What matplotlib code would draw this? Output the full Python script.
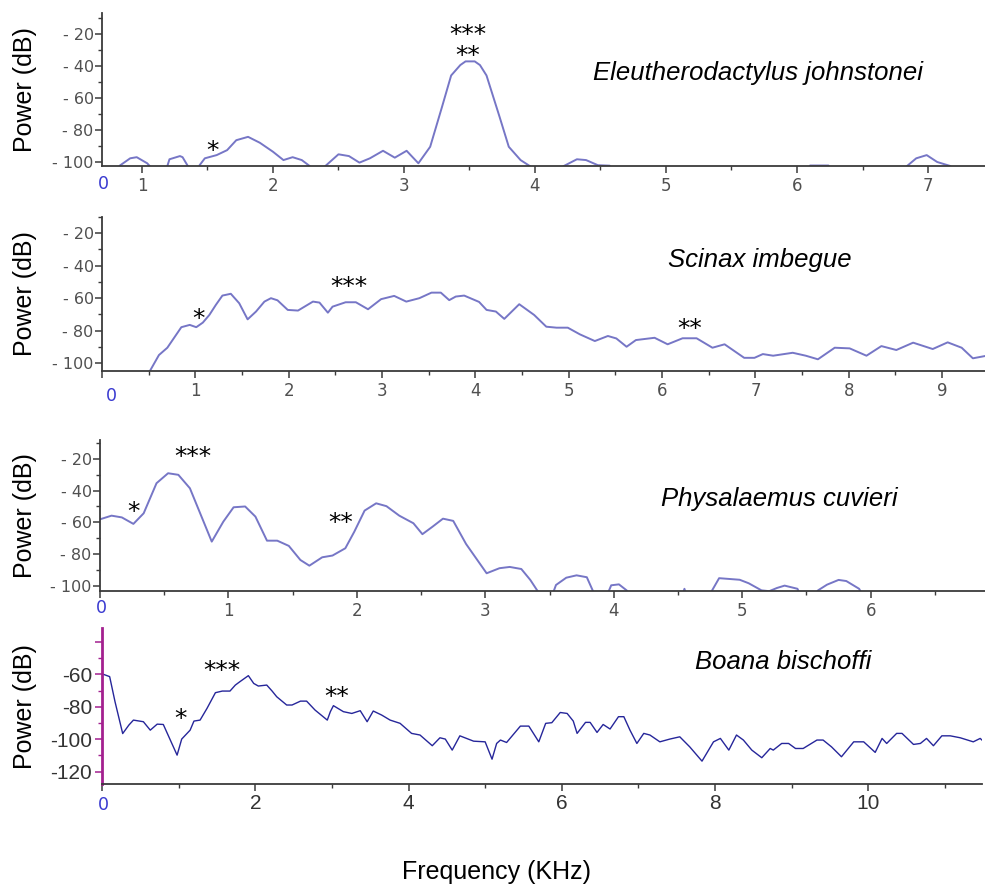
import numpy as np
import matplotlib.pyplot as plt
from matplotlib.ticker import MultipleLocator, FuncFormatter

# ---- data (kHz, dB) ----
species = ['Eleutherodactylus johnstonei', 'Scinax imbegue',
           'Physalaemus cuvieri', 'Boana bischoffi']

x1 = [0.70, 0.80, 0.83, 0.91, 0.96, 1.04, 1.07, 1.13, 1.19, 1.21, 1.29, 1.31, 1.35, 1.40,
      1.44, 1.48, 1.57, 1.65, 1.72, 1.81, 1.90, 2.00, 2.08, 2.15, 2.22, 2.28, 2.34, 2.40,
      2.50, 2.58, 2.66, 2.74, 2.84, 2.93, 3.02, 3.11, 3.20, 3.29, 3.36, 3.43, 3.47, 3.54,
      3.58, 3.63, 3.73, 3.80, 3.89, 3.96, 4.10, 4.22, 4.32, 4.39, 4.48, 4.57, 4.62, 5.50,
      6.05, 6.10, 6.24, 6.30, 6.80, 6.84, 6.91, 6.99, 7.07, 7.17, 7.25, 7.44]
y1 = [-115, -110, -102.3, -97.7, -97.0, -100.8, -103.5, -115, -103.5, -98.3, -96.3, -97,
      -102.5, -115, -102, -97.7, -95.7, -92.6, -86.4, -84.3, -88, -93.6, -98.8, -97, -98.8,
      -102.5, -115, -102.5, -95.2, -96.3, -100.4, -97.7, -93, -97.3, -93, -100.8, -90.5,
      -65.7, -46, -39.5, -37.2, -37.2, -39.5, -46, -71.9, -90.5, -98.8, -102.5, -115,
      -102.5, -98.3, -98.8, -102, -102.3, -115, -115, -115, -102.2, -102.2, -115, -115,
      -102.5, -97.7, -95.7, -100, -102.5, -115, -115]

x2 = [0.45, 0.51, 0.61, 0.70, 0.85, 0.94, 1.01, 1.08, 1.15, 1.22, 1.29, 1.38, 1.47, 1.56,
      1.65, 1.74, 1.81, 1.88, 1.99, 2.10, 2.26, 2.33, 2.42, 2.47, 2.61, 2.72, 2.85, 2.99,
      3.13, 3.26, 3.40, 3.53, 3.63, 3.72, 3.79, 3.88, 4.04, 4.12, 4.22, 4.31, 4.47, 4.63,
      4.76, 4.87, 4.99, 5.12, 5.28, 5.42, 5.51, 5.62, 5.72, 5.92, 6.06, 6.22, 6.37, 6.54,
      6.67, 6.88, 6.99, 7.08, 7.19, 7.40, 7.54, 7.67, 7.85, 8.01, 8.19, 8.35, 8.51, 8.69,
      8.90, 9.06, 9.21, 9.33, 9.46]
y2 = [-115, -105, -94.9, -90.4, -77.8, -76.4, -77.8, -75, -70.3, -64.1, -58.4, -57.3,
      -63.1, -73, -68.2, -62.1, -60, -61.3, -67.2, -67.6, -62.1, -62.7, -68.9, -65.2,
      -62.5, -62.5, -66.8, -60.6, -58.6, -62.1, -60, -56.6, -56.6, -61.2, -59, -58.4,
      -62.3, -67.2, -68.2, -72.7, -63.7, -70.3, -77.5, -78.1, -78.1, -82.2, -86.3, -83.2,
      -84.7, -89.8, -85.7, -84.3, -88.3, -84.6, -84.6, -90.4, -88.3, -96.6, -96.6, -94.3,
      -95.3, -93.5, -95.3, -97.5, -90.4, -90.8, -95.3, -89.4, -91.8, -87.3, -91.2, -87.1,
      -90.4, -96.9, -95.5]

x3 = [0, 0.09, 0.17, 0.26, 0.34, 0.44, 0.53, 0.61, 0.70, 0.87, 0.96, 1.04, 1.13, 1.21,
      1.30, 1.38, 1.47, 1.56, 1.63, 1.73, 1.81, 1.91, 1.98, 2.06, 2.15, 2.23, 2.33, 2.44,
      2.51, 2.59, 2.67, 2.75, 2.85, 3.01, 3.11, 3.19, 3.28, 3.35, 3.41, 3.48, 3.55, 3.63,
      3.71, 3.79, 3.84, 3.90, 3.98, 4.04, 4.10, 4.20, 4.50, 4.55, 4.60, 4.70, 4.76, 4.82,
      4.98, 5.05, 5.15, 5.21, 5.27, 5.33, 5.43, 5.50, 5.59, 5.66, 5.75, 5.81, 5.91, 6.00,
      6.89]
y3 = [-58.1, -55.8, -56.9, -61, -54.3, -35.3, -29, -30, -38.5, -72.2, -59.6, -50.5, -50,
      -56.4, -71.6, -71.6, -74.9, -83.8, -87.4, -82.1, -81, -76.4, -65.9, -52.6, -48,
      -49.8, -55.8, -60.6, -67.5, -62.7, -57.7, -59.1, -73.7, -92.2, -89, -88.2, -89.5,
      -96.4, -103.8, -115, -99.6, -95, -93.5, -94.7, -103.8, -115, -99.8, -99.2, -103,
      -115, -115, -102, -115, -115, -103.8, -95.3, -96.3, -98.5, -103, -103.5, -101.5,
      -100, -102, -115, -103, -99.4, -96.4, -97.1, -102, -115, -115]

x4 = [0.0, 0.02, 0.10, 0.17, 0.27, 0.35, 0.41, 0.54, 0.63, 0.72, 0.80, 0.98, 1.04, 1.15,
      1.20, 1.28, 1.37, 1.48, 1.57, 1.67, 1.74, 1.80, 1.91, 1.98, 2.04, 2.15, 2.22, 2.28,
      2.41, 2.48, 2.59, 2.67, 2.78, 2.94, 2.98, 3.02, 3.15, 3.26, 3.37, 3.46, 3.54, 3.65,
      3.76, 3.89, 4.04, 4.15, 4.31, 4.41, 4.48, 4.57, 4.67, 4.85, 5.00, 5.09, 5.15, 5.20,
      5.28, 5.46, 5.57, 5.70, 5.79, 5.87, 5.98, 6.07, 6.15, 6.20, 6.31, 6.37, 6.46, 6.54,
      6.63, 6.74, 6.81, 6.89, 6.98, 7.07, 7.15, 7.28, 7.41, 7.54, 7.67, 7.83, 7.98, 8.07,
      8.18, 8.28, 8.37, 8.48, 8.61, 8.72, 8.76, 8.87, 8.96, 9.05, 9.15, 9.33, 9.41, 9.52,
      9.65, 9.81, 9.94, 10.09, 10.18, 10.24, 10.37, 10.44, 10.59, 10.68, 10.76, 10.85,
      10.96, 11.07, 11.20, 11.37, 11.46, 11.50]
y4 = [-60, -60, -61.4, -76.9, -96.5, -91.3, -88.2, -89.2, -94.4, -90.7, -90.9, -109.8,
      -99.9, -94.4, -88.8, -88.2, -81, -71.3, -70.3, -70.3, -66.6, -64.5, -60.8, -65.6,
      -67.2, -66.6, -70.3, -73.8, -78.9, -78.9, -76.5, -76.5, -82, -88.2, -83, -79.3, -83,
      -84.1, -82.4, -89.2, -82.6, -85.1, -88.2, -90.2, -96.4, -97.4, -104, -99.1, -99.9,
      -106.7, -97.9, -101.2, -101.6, -112.3, -102.6, -100.5, -102, -91.9, -91.9, -101.6,
      -90.2, -89.8, -83.5, -84.1, -88.8, -96.4, -89.6, -89.6, -95.8, -90.9, -93.7, -86.1,
      -86.1, -94.4, -102.6, -96.4, -97.4, -101.6, -99.9, -98.5, -104.7, -113.5, -101.6,
      -99.5, -106.7, -97.4, -100.5, -106.7, -111.4, -105.7, -106.7, -102.6, -102.6,
      -105.7, -105.7, -100.5, -100.5, -104.7, -110.8, -101.6, -101.6, -108.1, -99.5,
      -102.6, -96.4, -96.4, -103.2, -102.6, -99.5, -104, -97.9, -97.9, -99.1, -101.6,
      -99.5, -101.2]

# star annotations: (label, kHz, dB)
stars1 = [('***\n**', 3.49, -27.5), ('*', 1.54, -93.0)]
stars2 = [('*', 1.03, -73.0), ('***', 2.65, -53.0), ('**', 6.30, -79.0)]
stars3 = [('*', 0.26, -53.5), ('***', 0.72, -18.8), ('**', 1.87, -60.5)]
stars4 = [('*', 1.02, -87.5), ('***', 1.57, -58.0), ('**', 3.06, -74.0)]

W, H = 985, 884
fig = plt.figure(figsize=(W / 100, H / 100), dpi=100)

# axes boxes in pixels: left, bottom(px from top), right, top
boxes = [(102, 166, 985, 13), (102, 370.7, 985, 216.7),
         (100, 591, 985, 440), (102, 784, 981.7, 628.3)]
axs = []
for l, b, r, t in boxes:
    axs.append(fig.add_axes([l / W, 1 - b / H, (r - l) / W, (b - t) / H]))

light = '#7676c6'
dark = '#26269a'
grey = '#505050'

panels = [
    (x1, y1, stars1, (0.695, 7.435), (-102.5, -7)),
    (x2, y2, stars2, (0, 9.46), (-104.5, -10)),
    (x3, y3, stars3, (0, 6.89), (-103.4, -8)),
    (x4, y4, stars4, (0, 11.48), (-127.6, -31.6)),
]
title_pos = [(0.743, 0.608), (0.745, 0.719), (0.768, 0.609), (0.774, 0.784)]

for i, (ax, (xs, ys, stars, xl, yl)) in enumerate(zip(axs, panels)):
    col = dark if i == 3 else light
    ax.plot(xs, ys, color=col, lw=1.4 if i < 3 else 1.0)
    ax.set_xlim(*xl)
    ax.set_ylim(*yl)
    for s in ['top', 'right']:
        ax.spines[s].set_visible(False)
    ax.spines['bottom'].set_color('#3a3a3a')
    ax.spines['left'].set_color('#3a3a3a')
    ax.spines['bottom'].set_linewidth(1.3)
    ax.spines['left'].set_linewidth(1.3)
    ax.tick_params(which='major', length=5, width=1.1, color='#3a3a3a')
    ax.tick_params(which='minor', length=3, width=1.0, color='#3a3a3a')
    for txt, xv, yv in stars:
        ax.text(xv, yv, txt, ha='center', va='center', fontsize=18,
                family='DejaVu Sans', linespacing=0.85)
    ax.text(title_pos[i][0], title_pos[i][1], species[i], transform=ax.transAxes,
            ha='center', va='center', fontsize=18.5, style='italic',
            family='Liberation Sans')
    fig.text(25 / W, 1 - (boxes[i][1] + boxes[i][3]) / 2 / H, 'Power (dB)',
             rotation=90, ha='center', va='center', fontsize=18,
             family='Liberation Sans')

# dB axes for the first three panels
for ax in axs[:3]:
    ax.yaxis.set_major_locator(MultipleLocator(20))
    ax.yaxis.set_minor_locator(MultipleLocator(10))
    ax.yaxis.set_major_formatter(FuncFormatter(lambda v, p: '- %d' % abs(v)))
    ax.xaxis.set_major_locator(MultipleLocator(1))
    ax.xaxis.set_minor_locator(MultipleLocator(0.5))
    ax.xaxis.set_major_formatter(FuncFormatter(lambda v, p: '' if v == 0 else '%d' % v))
    ax.tick_params(axis='y', labelsize=11.5, labelcolor=grey, pad=1)
    ax.tick_params(axis='x', labelsize=12, labelcolor=grey, pad=3)
    for lab in ax.get_yticklabels():
        lab.set_family('DejaVu Sans')

# blue zero labels
zero_off = [(1, -18), (9, -25), (1, -17), (1, -21)]
for ax, (dx, dy) in zip(axs, zero_off):
    ax.annotate('0', xy=(0, 0), xycoords='axes fraction', xytext=(dx, dy),
                textcoords='offset pixels', ha='center', va='center',
                fontsize=12.5, color='#3a3ad0', family='DejaVu Sans')

ax = axs[3]
ax.set_yticks([-40, -60, -80, -100, -120])
ax.set_yticklabels(['', '-60', '-80', '-100', '-120'])
ax.yaxis.set_minor_locator(MultipleLocator(10))
ax.xaxis.set_major_locator(MultipleLocator(2))
ax.xaxis.set_minor_locator(MultipleLocator(1))
ax.xaxis.set_major_formatter(FuncFormatter(lambda v, p: '' if v == 0 else '%d' % v))
ax.tick_params(axis='both', labelsize=15, labelcolor='#333333', pad=2)
for lab in ax.get_xticklabels() + ax.get_yticklabels():
    lab.set_family('Liberation Sans')
ax.spines['left'].set_color('#a3208f')
ax.spines['left'].set_linewidth(2)
ax.tick_params(axis='y', which='both', color='#a3208f')

fig.text(497 / W, 1 - 872 / H, 'Frequency (KHz)', ha='center', va='center',
         fontsize=18, family='Liberation Sans')

fig.savefig('out.png', dpi=100)
